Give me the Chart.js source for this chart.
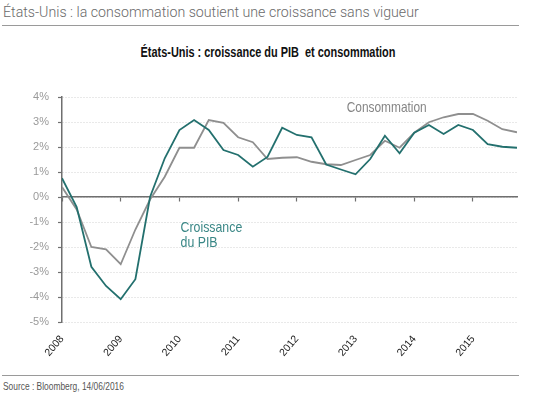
<!DOCTYPE html>
<html>
<head>
<meta charset="utf-8">
<script src="https://cdn.jsdelivr.net/npm/chart.js@4.4.0/dist/chart.umd.min.js"></script>
<style>
  body { margin: 0; width: 550px; height: 395px; background: #fff; position: relative; overflow: hidden; font-family: "Liberation Sans", Arial, sans-serif; }
  #header { position: absolute; left: 3px; top: 4px; font-family: Roboto, "Liberation Sans", sans-serif; font-weight: 300; font-size: 14.2px; color: #6a6a6a; white-space: nowrap; }
  #rule1 { position: absolute; left: 2px; top: 25px; width: 517px; height: 0; border-top: 1.5px solid #9a9a9a; }
  #title { position: absolute; left: 0; width: 536px; top: 44px; text-align: center; font-weight: bold; font-size: 14px; color: #111; transform: scaleX(0.78); transform-origin: 268px 0; white-space: nowrap; }
  #rule2 { position: absolute; left: 2px; top: 375px; width: 517px; height: 0; border-top: 1.5px solid #9a9a9a; }
  #source { position: absolute; left: 3px; top: 380px; font-size: 10.5px; color: #555; transform: scaleX(0.8); transform-origin: 0 0; white-space: nowrap; }
  #wrap { position: absolute; left: 0; top: 0; width: 550px; height: 395px; }
</style>
</head>
<body>
<div id="header">États-Unis : la consommation soutient une croissance sans vigueur</div>
<div id="rule1"></div>
<div id="title">États-Unis : croissance du PIB&nbsp; et consommation</div>
<div id="rule2"></div>
<div id="source">Source : Bloomberg, 14/06/2016</div>
<div id="wrap"><canvas id="chart" width="550" height="395"></canvas></div>
<script>
// trimestres 2008T1 .. 2015T4
const quarters = [
  2008, 2008.25, 2008.5, 2008.75, 2009, 2009.25, 2009.5, 2009.75,
  2010, 2010.25, 2010.5, 2010.75, 2011, 2011.25, 2011.5, 2011.75,
  2012, 2012.25, 2012.5, 2012.75, 2013, 2013.25, 2013.5, 2013.75,
  2014, 2014.25, 2014.5, 2014.75, 2015, 2015.25, 2015.5, 2015.75
];
const pib = [
  0.75, -0.4, -2.79, -3.56, -4.09, -3.29, 0.0, 1.55,
  2.68, 3.08, 2.68, 1.88, 1.68, 1.21, 1.6, 2.77,
  2.48, 2.39, 1.3, 1.1, 0.91, 1.52, 2.45, 1.75,
  2.57, 2.88, 2.52, 2.88, 2.68, 2.11, 2.01, 1.97
];
const conso = [
  0.4, -0.5, -2.0, -2.09, -2.69, -1.3, -0.1, 0.81,
  1.97, 1.97, 3.08, 2.97, 2.39, 2.19, 1.52, 1.57,
  1.59, 1.41, 1.31, 1.28, 1.48, 1.68, 2.25, 1.97,
  2.57, 2.99, 3.19, 3.32, 3.32, 3.05, 2.71, 2.59
];
const yearTicks = [2008, 2009, 2010, 2011, 2012, 2013, 2014, 2015];

const TEAL = '#23706e';
const GREY = '#8f8f8f';
const FONT = '"Liberation Sans", Arial, sans-serif';

const toPoints = (vals) => vals.map((v, i) => ({ x: quarters[i], y: v }));

// texte étroit : on compresse horizontalement
function narrowText(ctx, text, px, py, sx) {
  ctx.save();
  ctx.translate(px, py);
  ctx.scale(sx, 1);
  ctx.fillText(text, 0, 0);
  ctx.restore();
}

const seriesLabels = {
  id: 'seriesLabels',
  afterDatasetsDraw(chart) {
    const { ctx, scales: { x, y } } = chart;
    ctx.save();
    ctx.font = '14.5px ' + FONT;
    ctx.textBaseline = 'alphabetic';
    ctx.fillStyle = '#858585';
    narrowText(ctx, 'Consommation', x.getPixelForValue(2012.85), y.getPixelForValue(3.4), 0.82);
    ctx.fillStyle = '#3a8786';
    narrowText(ctx, 'Croissance', x.getPixelForValue(2010.02), y.getPixelForValue(-1.4), 0.85);
    narrowText(ctx, 'du PIB', x.getPixelForValue(2010.02), y.getPixelForValue(-2.0), 0.85);
    ctx.restore();
  }
};

new Chart(document.getElementById('chart'), {
  type: 'line',
  data: {
    datasets: [
      { label: 'Consommation', data: toPoints(conso), borderColor: GREY, borderWidth: 1.8, pointRadius: 0, tension: 0, xAxisID: 'x', order: 2 },
      { label: 'Croissance du PIB', data: toPoints(pib), borderColor: TEAL, borderWidth: 1.8, pointRadius: 0, tension: 0, xAxisID: 'x', order: 1 }
    ]
  },
  options: {
    responsive: false,
    animation: false,
    layout: { padding: { left: 0, right: 33, top: 97, bottom: 28 } },
    plugins: { legend: { display: false }, tooltip: { enabled: false } },
    scales: {
      x: {
        type: 'linear', position: 'bottom',
        min: quarters[0], max: quarters[quarters.length - 1],
        afterBuildTicks: (s) => { s.ticks = yearTicks.map((v) => ({ value: v })); },
        grid: { display: false },
        border: { display: false },
        ticks: {
          callback: (v) => String(v),
          minRotation: 50, maxRotation: 50,
          color: '#222', font: { family: FONT, size: 10.5 }, padding: 3
        },
        afterFit: (s) => { s.height = 45; }
      },
      x0: {
        type: 'linear', position: { y: 0 },
        min: quarters[0], max: quarters[quarters.length - 1],
        afterBuildTicks: (s) => { s.ticks = yearTicks.map((v) => ({ value: v })); },
        grid: { display: true, drawOnChartArea: false, drawTicks: true, tickLength: 4, tickColor: '#6f6f6f', tickWidth: 1.2 },
        border: { display: true, color: '#6f6f6f', width: 1.5 },
        ticks: { display: false }
      },
      y: {
        min: -5, max: 4,
        ticks: {
          stepSize: 1,
          callback: (v) => v + '%',
          color: '#9a9a9a', font: { family: FONT, size: 11 }, padding: 9
        },
        grid: {
          color: '#d2d2d2', lineWidth: 1,
          drawTicks: true, tickLength: 4, tickColor: '#6f6f6f', tickBorderDash: [], tickWidth: 1.2
        },
        border: { display: true, color: '#6f6f6f', width: 1.5, dash: [1, 2] },
        afterFit: (s) => { s.width = 62; }
      }
    }
  },
  plugins: [seriesLabels]
});
</script>
</body>
</html>
